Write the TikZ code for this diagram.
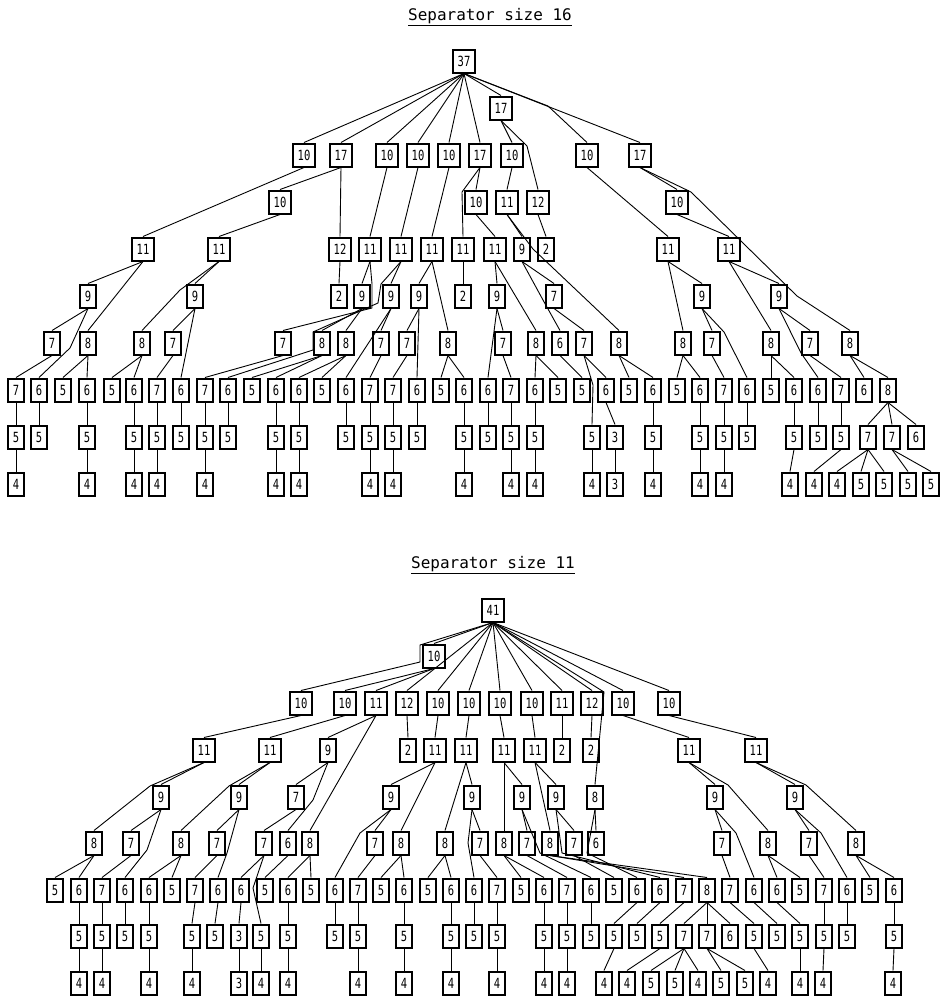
\documentclass[tikz,border=0pt]{standalone}
\usepackage{fontspec}
\newfontfamily\boxfont[FakeStretch=0.75]{DejaVu Sans Mono}
\newfontfamily\headfont{DejaVu Sans Mono}
\tikzset{
  sep/.style={draw=black, line width=2pt, minimum height=23pt, minimum width=15pt, inner xsep=4.5pt, inner ysep=0pt, font=\boxfont\fontsize{14}{14}\selectfont},
  link/.style={line width=0.9pt, draw=black, line join=round},
  heading/.style={font=\headfont\fontsize{16}{16}\selectfont}
}
% one row of boxes: prefix, y, list of x/label
\newcommand\tier[3]{\foreach \x/\v in {#3} \node[sep] (#1-\x) at (\x,#2) {\v};}
% parent/child pairs, bottom of parent to top of child
\newcommand\links[1]{\foreach \p/\c in {#1} \draw[link] (\p.south) -- (\c.north);}

\begin{document}
\begin{tikzpicture}[x=1pt,y=-1pt]
  \useasboundingbox (0,0) rectangle (941,997);

  % ---- separator size 16 ----
  \node[heading] (head16) at (490,17) {\underline{Separator size 16}};
  \tier{t0}{61}{464/37}
  \tier{t1}{108}{501/17}
  \tier{t2}{155}{304/10,341/17,387/10,418/10,449/10,480/17,512/10,587/10,640/17}
  \tier{t3}{202}{280/10,476/10,507/11,538/12,677/10}
  \tier{t4}{249}{143/11,219/11,340/12,370/11,401/11,432/11,463/11,495/11,522/9,546/2,668/11,729/11}
  \tier{t5}{296}{88/9,195/9,339/2,362/9,391/9,419/9,463/2,497/9,554/7,702/9,779/9}
  \tier{t6}{343}{52/7,88/8,142/8,173/7,283/7,322/8,346/8,381/7,407/7,448/8,503/7,536/8,560/6,584/7,619/8,683/8,712/7,771/8,810/7,850/8}
  \tier{t7}{390}{16/7,39/6,63/5,87/6,112/5,134/6,157/7,181/6,205/7,228/6,252/5,276/6,299/6,322/5,346/6,370/7,393/7,417/6,441/5,464/6,488/6,511/7,535/6,558/5,582/5,606/6,629/5,653/6,677/5,700/6,724/7,747/6,771/5,794/6,818/6,841/7,864/6,888/8}
  \tier{t8}{437}{16/5,39/5,87/5,134/5,157/5,181/5,205/5,228/5,276/5,299/5,346/5,370/5,393/5,417/5,464/5,488/5,511/5,535/5,592/5,615/3,653/5,700/5,724/5,747/5,794/5,818/5,841/5,868/7,892/7,916/6}
  \tier{t9}{484}{16/4,87/4,134/4,157/4,205/4,276/4,299/4,370/4,393/4,464/4,511/4,535/4,592/4,615/3,653/4,700/4,724/4,790/4,814/4,837/4,861/5,884/5,908/5,931/5}

  \links{t0-464/t1-501,t0-464/t2-304,t0-464/t2-341,t0-464/t2-387,t0-464/t2-418,t0-464/t2-449,t0-464/t2-480,t0-464/t2-640,
    t1-501/t2-512,
    t2-304/t4-143,t2-341/t3-280,t2-341/t4-340,t2-387/t4-370,t2-418/t4-401,t2-449/t4-432,t2-480/t3-476,t2-512/t3-507,t2-587/t4-668,t2-640/t3-677,
    t3-280/t4-219,t3-476/t4-495,t3-507/t4-522,t3-538/t4-546,t3-677/t4-729,
    t4-143/t5-88,t4-143/t6-88,t4-219/t5-195,t4-340/t5-339,t4-370/t5-362,t4-401/t5-391,t4-432/t5-419,t4-432/t6-448,t4-463/t5-463,t4-495/t5-497,t4-495/t6-536,t4-522/t5-554,t4-668/t5-702,t4-668/t6-683,t4-729/t5-779,t4-729/t6-771,
    t5-88/t6-52,t5-195/t6-173,t5-195/t7-181,t5-362/t6-322,t5-362/t6-346,t5-391/t6-381,t5-391/t7-346,t5-419/t6-407,t5-419/t7-417,t5-497/t6-503,t5-497/t7-488,t5-554/t6-584,t5-702/t6-712,t5-779/t6-810,
    t6-52/t7-16,t6-88/t7-63,t6-88/t7-87,t6-142/t7-112,t6-142/t7-134,t6-173/t7-157,t6-283/t7-205,t6-322/t7-252,t6-322/t7-276,t6-346/t7-299,t6-346/t7-322,t6-381/t7-370,t6-407/t7-393,t6-448/t7-441,t6-448/t7-464,t6-503/t7-511,t6-536/t7-535,t6-536/t7-558,t6-560/t7-582,t6-584/t7-606,t6-619/t7-629,t6-619/t7-653,t6-683/t7-677,t6-683/t7-700,t6-712/t7-724,t6-771/t7-771,t6-771/t7-794,t6-810/t7-841,t6-850/t7-864,t6-850/t7-888,
    t7-16/t8-16,t7-39/t8-39,t7-87/t8-87,t7-134/t8-134,t7-157/t8-157,t7-181/t8-181,t7-205/t8-205,t7-228/t8-228,t7-276/t8-276,t7-299/t8-299,t7-346/t8-346,t7-370/t8-370,t7-393/t8-393,t7-417/t8-417,t7-464/t8-464,t7-488/t8-488,t7-511/t8-511,t7-535/t8-535,t7-606/t8-615,t7-653/t8-653,t7-700/t8-700,t7-724/t8-724,t7-747/t8-747,t7-794/t8-794,t7-818/t8-818,t7-841/t8-841,t7-888/t8-868,t7-888/t8-892,t7-888/t8-916,
    t8-16/t9-16,t8-87/t9-87,t8-134/t9-134,t8-157/t9-157,t8-205/t9-205,t8-276/t9-276,t8-299/t9-299,t8-370/t9-370,t8-393/t9-393,t8-464/t9-464,t8-511/t9-511,t8-535/t9-535,t8-592/t9-592,t8-615/t9-615,t8-653/t9-653,t8-700/t9-700,t8-724/t9-724,t8-794/t9-790,t8-841/t9-814,t8-868/t9-837,t8-868/t9-861,t8-868/t9-884,t8-892/t9-908,t8-892/t9-931}
  % edges that cross a row
  \draw[link] (t0-464.south) -- (548,106) -- (t2-587.north);
  \draw[link] (t1-501.south) -- (527,146) -- (t3-538.north);
  \draw[link] (t2-480.south) -- (462,192) -- (t4-463.north);
  \draw[link] (t2-640.south) -- (691,192) -- (797,296) -- (t6-850.north);
  \draw[link] (t3-507.south) -- (533,249) -- (t6-619.north);
  \draw[link] (t4-219.south) -- (180,290) -- (t6-142.north);
  \draw[link] (t4-370.south) -- (372,284) -- (372,308) -- (t6-283.north);
  \draw[link] (t4-401.south) -- (381,284) -- (378,303) -- (313,332) -- (313,350) -- (t7-228.north);
  \draw[link] (t4-522.south) -- (543,300) -- (t6-560.north);
  \draw[link] (t5-88.south) -- (70,348) -- (t7-39.north);
  \draw[link] (t5-702.south) -- (724,332) -- (t7-747.north);
  \draw[link] (t5-779.south) -- (801,353) -- (t7-818.north);
  \draw[link] (t6-584.south) -- (593,385) -- (t8-592.north);

  % ---- separator size 11 ----
  \node[heading] (head11) at (493,565) {\underline{Separator size 11}};
  \tier{b0}{610}{493/41}
  \tier{b1}{656}{434/10}
  \tier{b2}{703}{301/10,345/10,376/11,407/12,438/10,469/10,500/10,532/10,562/11,592/12,623/10,669/10}
  \tier{b3}{750}{204/11,270/11,328/9,408/2,435/11,466/11,504/11,535/11,562/2,591/2,689/11,756/11}
  \tier{b4}{797}{161/9,239/9,296/7,391/9,472/9,522/9,556/9,595/8,715/9,795/9}
  \tier{b5}{843}{94/8,131/7,181/8,217/7,264/7,288/6,310/8,375/7,401/8,445/8,480/7,504/8,527/7,550/8,574/7,596/6,722/7,768/8,809/7,856/8}
  \tier{b6}{890}{55/5,79/6,102/7,125/6,149/6,172/5,195/7,218/6,241/6,265/5,288/6,311/5,335/6,358/7,381/5,404/6,428/5,451/6,474/6,497/7,521/5,544/6,567/7,591/6,614/5,637/6,660/6,684/7,707/8,730/7,754/6,777/6,800/5,824/7,847/6,870/5,894/6}
  \tier{b7}{936}{79/5,102/5,125/5,149/5,192/5,215/5,239/3,261/5,288/5,335/5,358/5,404/5,451/5,474/5,497/5,544/5,567/5,591/5,614/5,637/5,660/5,684/7,707/7,730/6,754/5,777/5,800/5,824/5,847/5,894/5}
  \tier{b8}{983}{79/4,102/4,149/4,192/4,239/3,261/4,288/4,358/4,404/4,451/4,497/4,544/4,567/4,604/4,627/4,651/5,675/5,698/4,721/5,745/5,768/4,800/4,823/4,893/4}

  \links{b0-493/b1-434,b0-493/b2-407,b0-493/b2-438,b0-493/b2-469,b0-493/b2-500,b0-493/b2-532,b0-493/b2-562,b0-493/b2-592,b0-493/b2-623,b0-493/b2-669,
    b1-434/b2-345,b1-434/b2-376,
    b2-301/b3-204,b2-345/b3-270,b2-376/b3-328,b2-376/b5-310,b2-407/b3-408,b2-438/b3-435,b2-469/b3-466,b2-500/b3-504,b2-532/b3-535,b2-562/b3-562,b2-592/b3-591,b2-623/b3-689,b2-669/b3-756,
    b3-204/b4-161,b3-270/b4-239,b3-328/b4-296,b3-435/b4-391,b3-435/b5-401,b3-466/b4-472,b3-466/b5-445,b3-504/b4-522,b3-504/b5-504,b3-535/b4-556,b3-535/b5-550,b3-689/b4-715,b3-756/b4-795,
    b4-161/b5-131,b4-239/b5-217,b4-296/b5-264,b4-391/b5-375,b4-472/b5-480,b4-522/b5-527,b4-556/b5-574,b4-595/b5-596,b4-715/b5-722,b4-795/b5-809,
    b5-94/b6-55,b5-94/b6-79,b5-131/b6-102,b5-181/b6-149,b5-181/b6-172,b5-217/b6-195,b5-264/b6-241,b5-288/b6-265,b5-310/b6-288,b5-310/b6-311,b5-375/b6-358,b5-401/b6-381,b5-401/b6-404,b5-445/b6-428,b5-445/b6-451,b5-480/b6-497,b5-504/b6-521,b5-504/b6-544,b5-527/b6-567,b5-550/b6-684,b5-550/b6-707,b5-574/b6-614,b5-722/b6-730,b5-768/b6-777,b5-768/b6-800,b5-809/b6-824,b5-856/b6-870,b5-856/b6-894,
    b6-79/b7-79,b6-102/b7-102,b6-125/b7-125,b6-149/b7-149,b6-195/b7-192,b6-218/b7-215,b6-241/b7-239,b6-288/b7-288,b6-335/b7-335,b6-358/b7-358,b6-404/b7-404,b6-451/b7-451,b6-474/b7-474,b6-497/b7-497,b6-544/b7-544,b6-567/b7-567,b6-591/b7-591,b6-637/b7-614,b6-660/b7-637,b6-684/b7-660,b6-707/b7-684,b6-707/b7-707,b6-707/b7-730,b6-730/b7-754,b6-754/b7-777,b6-777/b7-800,b6-824/b7-824,b6-847/b7-847,b6-894/b7-894,
    b7-79/b8-79,b7-102/b8-102,b7-149/b8-149,b7-192/b8-192,b7-239/b8-239,b7-261/b8-261,b7-288/b8-288,b7-358/b8-358,b7-404/b8-404,b7-451/b8-451,b7-497/b8-497,b7-544/b8-544,b7-567/b8-567,b7-614/b8-604,b7-660/b8-627,b7-684/b8-651,b7-684/b8-675,b7-684/b8-698,b7-707/b8-721,b7-707/b8-745,b7-754/b8-768,b7-800/b8-800,b7-824/b8-823,b7-894/b8-893}
  % edges that cross a row
  \draw[link] (b0-493.south) -- (420,645) -- (420,662) -- (b2-301.north);
  \draw[link] (b0-493.south) -- (604,692) -- (b4-595.north);
  \draw[link] (b3-204.south) -- (150,786) -- (b5-94.north);
  \draw[link] (b3-270.south) -- (229,786) -- (b5-181.north);
  \draw[link] (b3-328.south) -- (313,800) -- (b5-288.north);
  \draw[link] (b3-689.south) -- (728,785) -- (b5-768.north);
  \draw[link] (b3-756.south) -- (806,785) -- (b5-856.north);
  \draw[link] (b4-161.south) -- (147,850) -- (b6-125.north);
  \draw[link] (b4-239.south) -- (227,853) -- (b6-218.north);
  \draw[link] (b4-391.south) -- (360,833) -- (b6-335.north);
  \draw[link] (b4-472.south) -- (468,843) -- (b6-474.north);
  \draw[link] (b4-522.south) -- (540,853) -- (b6-591.north);
  \draw[link] (b4-556.south) -- (562,853) -- (b6-660.north);
  \draw[link] (b4-595.south) -- (587,853) -- (b6-637.north);
  \draw[link] (b4-715.south) -- (736,833) -- (b6-754.north);
  \draw[link] (b4-795.south) -- (821,833) -- (b6-847.north);
  \draw[link] (b5-264.south) -- (253,888) -- (b7-261.north);
\end{tikzpicture}
\end{document}
